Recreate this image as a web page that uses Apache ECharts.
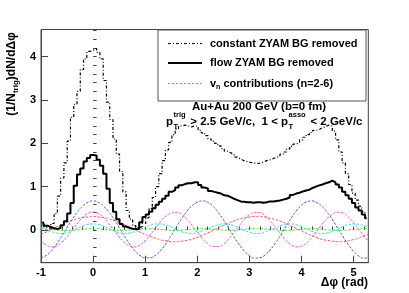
<!DOCTYPE html>
<html><head><meta charset="utf-8">
<script src="https://cdn.jsdelivr.net/npm/echarts@6/dist/echarts.min.js"></script>
<style>html,body{margin:0;padding:0;background:#fff}#c{width:409px;height:293px}</style>
</head><body><div id="c"></div>
<script>
// ---- data ----
const xTickLabels = [-1, 0, 1, 2, 3, 4, 5];
const yTickLabels = [0, 1, 2, 3, 4];
const binLow = -1;
const binCount = 100;
const binWidth = 2 * Math.PI / binCount;

// flow ZYAM BG removed (solid histogram), 100 bins from -1 to 2pi-1
const flowZyam = [
0.19,0.10,0.07,0.04,0.02,0.05,0.11,0.20,0.38,0.62,
1.02,1.28,1.42,1.58,1.66,1.73,1.72,1.62,1.48,1.30,
0.95,0.62,0.42,0.25,0.14,0.08,0.05,0.03,0.02,0.02,
0.18,0.30,0.36,0.42,0.50,0.58,0.65,0.72,0.79,0.88,
0.92,0.98,1.03,1.06,1.08,1.08,1.10,1.10,1.04,0.98,
0.96,0.90,0.88,0.86,0.84,0.80,0.79,0.76,0.72,0.69,
0.66,0.65,0.64,0.64,0.63,0.64,0.64,0.63,0.64,0.66,
0.66,0.67,0.68,0.70,0.72,0.75,0.81,0.84,0.86,0.89,
0.91,0.93,0.97,1.00,1.03,1.05,1.08,1.10,1.14,1.10,
1.05,0.98,0.88,0.80,0.72,0.62,0.52,0.45,0.36,0.27];

// constant ZYAM BG removed (dash-dot histogram)
const constZyam = [
0.12,0.06,0.04,0.15,0.38,0.78,1.20,1.55,2.05,2.60,
2.90,3.20,3.70,3.95,4.12,4.15,4.19,4.10,3.95,3.45,
2.95,2.55,2.10,1.75,1.35,0.88,0.45,0.25,0.10,0.05,
0.08,0.15,0.28,0.50,0.75,1.00,1.30,1.60,1.85,2.02,
2.20,2.33,2.40,2.42,2.40,2.38,2.40,2.40,2.30,2.24,
2.18,2.10,2.05,2.00,1.94,1.88,1.82,1.78,1.74,1.68,
1.64,1.60,1.58,1.56,1.55,1.54,1.54,1.57,1.60,1.62,
1.65,1.68,1.70,1.75,1.80,1.87,1.93,1.98,2.02,2.08,
2.14,2.20,2.25,2.30,2.32,2.36,2.39,2.42,2.40,2.28,
2.08,1.80,1.55,1.30,1.05,0.85,0.69,0.55,0.42,0.30];

// v_n contributions, sampled at vnX
const vnX = [-1.0,-0.9,-0.8,-0.7,-0.6,-0.5,-0.4,-0.3,-0.2,-0.1,0.0,0.1,0.2,0.3,0.4,0.5,0.6,0.7,0.8,0.9,
1.0,1.1,1.2,1.3,1.4,1.5,1.6,1.7,1.8,1.9,2.0,2.1,2.2,2.3,2.4,2.5,2.6,2.7,2.8,2.9,
3.0,3.1,3.2,3.3,3.4,3.5,3.6,3.7,3.8,3.9,4.0,4.1,4.2,4.3,4.4,4.5,4.6,4.7,4.8,4.9,
5.0,5.1,5.2,5.283];
const v2 = [-0.10,-0.05,0.01,0.07,0.12,0.18,0.22,0.26,0.29,0.30,0.31,0.30,0.29,0.26,0.22,0.18,0.12,0.07,0.01,-0.05,
-0.10,-0.15,-0.19,-0.23,-0.25,-0.27,-0.27,-0.26,-0.24,-0.21,-0.17,-0.12,-0.07,-0.01,0.05,0.10,0.16,0.20,0.25,0.28,
0.30,0.31,0.31,0.30,0.27,0.24,0.20,0.15,0.09,0.04,-0.02,-0.08,-0.13,-0.18,-0.22,-0.24,-0.26,-0.27,-0.27,-0.25,
-0.22,-0.19,-0.14,-0.10];
const v3 = [-0.64,-0.59,-0.48,-0.32,-0.14,0.06,0.25,0.42,0.55,0.64,0.67,0.64,0.55,0.42,0.25,0.06,-0.14,-0.32,-0.48,-0.59,
-0.64,-0.64,-0.58,-0.47,-0.31,-0.13,0.07,0.26,0.43,0.56,0.64,0.67,0.64,0.55,0.41,0.24,0.05,-0.15,-0.33,-0.48,
-0.59,-0.65,-0.64,-0.58,-0.46,-0.30,-0.12,0.08,0.27,0.44,0.57,0.65,0.67,0.63,0.54,0.40,0.23,0.03,-0.16,-0.34,
-0.49,-0.60,-0.65,-0.64];
const v4 = [-0.25,-0.35,-0.39,-0.37,-0.28,-0.16,0.00,0.15,0.29,0.38,0.41,0.38,0.29,0.15,0.00,-0.16,-0.28,-0.37,-0.39,-0.35,
-0.25,-0.11,0.04,0.20,0.32,0.39,0.41,0.36,0.25,0.11,-0.05,-0.20,-0.31,-0.38,-0.38,-0.33,-0.21,-0.07,0.09,0.24,
0.35,0.40,0.40,0.33,0.21,0.06,-0.09,-0.24,-0.34,-0.39,-0.37,-0.30,-0.17,-0.02,0.14,0.27,0.37,0.41,0.39,0.30,
0.17,0.02,-0.14,-0.25];
const v5 = [0.06,0.01,-0.04,-0.07,-0.08,-0.06,-0.02,0.04,0.09,0.13,0.14,0.13,0.09,0.04,-0.02,-0.06,-0.08,-0.07,-0.04,0.01,
0.06,0.11,0.14,0.14,0.11,0.07,0.01,-0.04,-0.07,-0.08,-0.06,-0.02,0.03,0.08,0.12,0.14,0.13,0.10,0.05,-0.01,
-0.05,-0.08,-0.08,-0.05,0.00,0.05,0.10,0.13,0.14,0.12,0.07,0.02,-0.03,-0.07,-0.08,-0.07,-0.03,0.02,0.08,0.12,
0.14,0.13,0.10,0.06];
const v6 = [0.03,0.02,0.01,0.00,-0.01,-0.01,-0.005,0.005,0.017,0.026,0.03,0.026,0.017,0.005,-0.005,-0.01,-0.008,0.00,0.012,0.023,
0.029,0.029,0.022,0.011,0.00,-0.008,-0.01,-0.004,0.006,0.018,0.027,0.03,0.026,0.017,0.005,-0.005,-0.01,-0.008,0.001,0.012,
0.023,0.029,0.029,0.022,0.01,-0.001,-0.008,-0.01,-0.004,0.007,0.018,0.027,0.03,0.026,0.016,0.004,-0.006,-0.01,-0.007,0.001,
0.013,0.024,0.03,0.029];

const xMinor = []; for (let k = -5; k <= 26; k++) xMinor.push(+(k * 0.2).toFixed(2));
const yMinor = []; for (let k = -3; k <= 23; k++) yMinor.push(+(k * 0.2).toFixed(2));

// ---- build ----
const binCenters = flowZyam.map((_, i) => binLow + (i + 0.5) * binWidth);
const pair = (xs, ys) => ys.map((y, i) => [xs[i], y]);
const XMIN = -1, XMAX = 2 * Math.PI - 1, YMIN = -0.755, YMAX = 4.627;
const FONT = '"Liberation Sans", Arial, Helvetica, sans-serif';
const axisCol = '#444';

const mctx = document.createElement('canvas').getContext('2d');
const tw = (t, f) => { mctx.font = f; return mctx.measureText(t).width; };
const FA = 'bold 11.5px ' + FONT, F8 = 'bold 7.5px ' + FONT, F11 = 'bold 11px ' + FONT;

// p_T annotation line, laid out piece by piece
const ptY = 121.5;
let cx = 166;
const ptGraphics = [];
function addMain(t) { ptGraphics.push({type: 'text', x: cx, y: ptY, style: {text: t, font: FA, fill: '#000', verticalAlign: 'middle'}, z: 11}); cx += tw(t, FA); }
function addSupSub(sup, sub) {
  cx += 0.5;
  ptGraphics.push({type: 'text', x: cx, y: ptY - 7, style: {text: sup, font: F8, fill: '#000', verticalAlign: 'middle'}, z: 11});
  ptGraphics.push({type: 'text', x: cx, y: ptY + 5, style: {text: sub, font: F8, fill: '#000', verticalAlign: 'middle'}, z: 11});
  cx += Math.max(tw(sup, F8), tw(sub, F8)) + 1.5;
}
addMain('p'); addSupSub('trig', 'T'); addMain(' > 2.5 GeV/c,  1 < p'); addSupSub('asso', 'T'); addMain(' < 2 GeV/c');

const vnSeries = [
  {d: v2, c: '#ff5050'},
  {d: v3, c: '#4c4cff'},
  {d: v4, c: '#ff40ff'},
  {d: v5, c: '#30dada'},
  {d: v6, c: '#40d840'}
].map(s => ({
  type: 'line', data: pair(vnX, s.d), smooth: true, showSymbol: false, silent: true,
  lineStyle: {color: s.c, width: 1, type: [2.5, 1.5]}, z: 2
}));

const chart = echarts.init(document.getElementById('c'), null, {renderer: 'canvas'});
chart.setOption({
  animation: false,
  backgroundColor: '#fff',
  grid: {left: 41, right: 40.7, top: 29.5, bottom: 30.3, show: true, borderColor: axisCol, borderWidth: 1, backgroundColor: 'transparent'},
  xAxis: [{
    type: 'value', min: XMIN, max: XMAX, interval: 1,
    axisLine: {show: true, onZero: false, lineStyle: {color: axisCol, width: 1}},
    axisTick: {show: true, inside: true, length: 7, customValues: xTickLabels, lineStyle: {color: axisCol}},
    axisLabel: {show: true, customValues: xTickLabels, margin: 5, color: '#000', fontFamily: FONT, fontWeight: 'bold', fontSize: 11},
    splitLine: {show: false}
  }, {
    type: 'value', min: XMIN, max: XMAX, position: 'bottom',
    axisLine: {show: false}, axisLabel: {show: false}, splitLine: {show: false},
    axisTick: {show: true, inside: true, length: 3.5, customValues: xMinor, lineStyle: {color: axisCol}}
  }],
  yAxis: [{
    type: 'value', min: YMIN, max: YMAX,
    axisLine: {show: true, onZero: false, lineStyle: {color: axisCol, width: 1}},
    axisTick: {show: true, inside: true, length: 7, customValues: yTickLabels, lineStyle: {color: axisCol}},
    axisLabel: {show: true, customValues: yTickLabels, margin: 5, color: '#000', fontFamily: FONT, fontWeight: 'bold', fontSize: 11},
    splitLine: {show: false}
  }, {
    type: 'value', min: YMIN, max: YMAX, position: 'left',
    axisLine: {show: false}, axisLabel: {show: false}, splitLine: {show: false},
    axisTick: {show: true, inside: true, length: 3.5, customValues: yMinor, lineStyle: {color: axisCol}}
  }],
  series: vnSeries.concat([
    {type: 'line', data: pair(binCenters, constZyam), step: 'middle', showSymbol: false, silent: true,
     lineStyle: {color: '#000', width: 1.2, type: [3, 2, 1, 2]}, z: 3},
    {type: 'line', data: pair(binCenters, flowZyam), step: 'middle', showSymbol: false, silent: true,
     lineStyle: {color: '#000', width: 2}, z: 4}
  ]),
  graphic: [
    // legend box
    {type: 'rect', shape: {x: 158, y: 30, width: 208, height: 71}, style: {fill: '#fff', stroke: '#555', lineWidth: 1}, z: 10},
    {type: 'line', shape: {x1: 168, y1: 43.5, x2: 202, y2: 43.5}, style: {stroke: '#000', lineWidth: 1.2, lineDash: [3, 2, 1, 2]}, z: 11},
    {type: 'text', x: 210, y: 43.5, style: {text: 'constant ZYAM BG removed', font: F11, fill: '#000', verticalAlign: 'middle'}, z: 11},
    {type: 'line', shape: {x1: 168, y1: 63, x2: 202, y2: 63}, style: {stroke: '#000', lineWidth: 2}, z: 11},
    {type: 'text', x: 210, y: 63, style: {text: 'flow ZYAM BG removed', font: F11, fill: '#000', verticalAlign: 'middle'}, z: 11},
    {type: 'line', shape: {x1: 168, y1: 83.5, x2: 202, y2: 83.5}, style: {stroke: '#999', lineWidth: 1, lineDash: [2.5, 1.5]}, z: 11},
    {type: 'text', x: 210, y: 83.5, style: {
      text: '{a|v}{s|n}{a| contributions (n=2-6)}', fill: '#000', verticalAlign: 'middle',
      rich: {a: {font: F11, lineHeight: 14, verticalAlign: 'middle'}, s: {font: 'bold 7px ' + FONT, lineHeight: 8, verticalAlign: 'bottom'}}
    }, z: 11},
    // annotation
    {type: 'text', x: 259, y: 107, style: {text: 'Au+Au 200 GeV (b=0 fm)', font: FA, fill: '#000', align: 'center', verticalAlign: 'middle'}, z: 11}
  ].concat(ptGraphics).concat([
    // axis titles
    {type: 'text', x: 368, y: 283, style: {text: 'Δφ (rad)', font: 'bold 12px ' + FONT, fill: '#000', align: 'right', verticalAlign: 'middle'}, z: 11},
    {type: 'text', x: 12, y: 74, rotation: Math.PI / 2, style: {
      text: '{a|(1/N}{s|trig}{a|)dN/dΔφ}', fill: '#000', align: 'center', verticalAlign: 'middle',
      rich: {a: {font: 'bold 12px ' + FONT, lineHeight: 16, verticalAlign: 'middle'}, s: {font: 'bold 8px ' + FONT, lineHeight: 9, verticalAlign: 'bottom'}}
    }, z: 11}
  ])
});
</script></body></html>
